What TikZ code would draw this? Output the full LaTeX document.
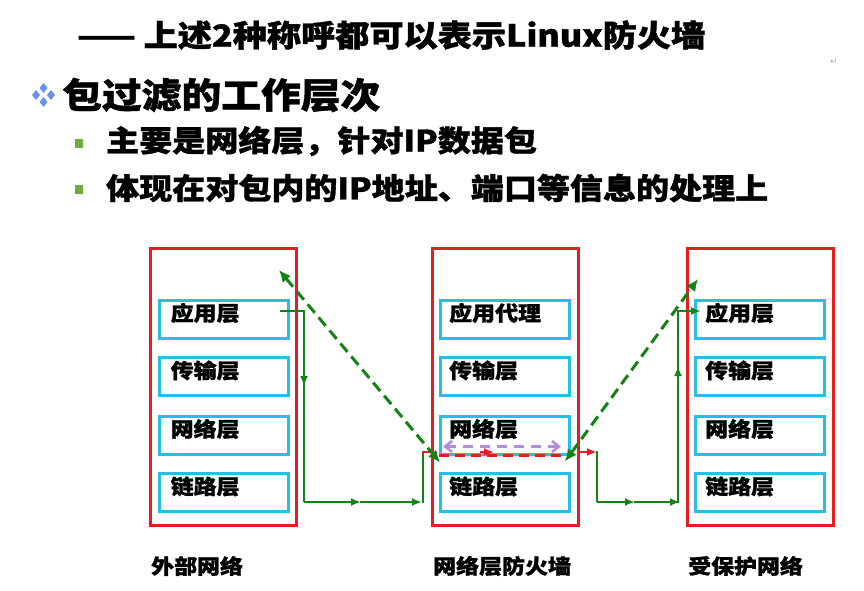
\documentclass[tikz,border=0pt]{standalone}
\usepackage{fontspec}
\newfontfamily\cjk{Noto Sans CJK SC}[FakeStretch=1.12,FakeBold=1.2]
\newfontfamily\symfont{DejaVu Sans}
\usetikzlibrary{arrows.meta}
\definecolor{netred}{RGB}{228,30,30}
\definecolor{layerblue}{RGB}{40,190,232}
\definecolor{flowgreen}{RGB}{20,130,20}
\definecolor{peerpurple}{RGB}{180,140,222}
\definecolor{dotblue}{RGB}{105,145,238}
\definecolor{dotgreen}{RGB}{110,172,60}

\begin{document}
\begin{tikzpicture}[x=1pt,y=-1pt,
  netbox/.style={draw=netred,line width=3pt,minimum width=146pt,minimum height=277pt,inner sep=0pt},
  layerbox/.style={draw=layerblue,line width=3pt,minimum width=129pt,minimum height=38pt,inner sep=0pt},
  layertxt/.style={anchor=west,inner sep=0pt,font=\cjk\bfseries\fontsize{20.5}{24}\selectfont},
  nettxt/.style={anchor=west,inner sep=0pt,font=\cjk\bfseries\fontsize{20.5}{24}\selectfont},
  flow/.style={flowgreen,line width=2.5pt,-{Latex[length=10pt,width=8pt]}},
  flowline/.style={flowgreen,line width=2.5pt},
  peer/.style={flowgreen,line width=3pt,dash pattern=on 11pt off 6pt,
    {Latex[length=12pt,width=11pt]}-{Latex[length=12pt,width=11pt]}},
  pass/.style={netred,line width=2.5pt}]
  \useasboundingbox (0,0) rectangle (864,591);

  % heading text
  \node[anchor=west,inner sep=0pt,font=\cjk\bfseries\fontsize{30.5}{34}\selectfont] (title) at (77,35) {—— 上述2种称呼都可以表示Linux防火墙};
  \node[font=\symfont\fontsize{9}{10}\selectfont,text=gray!70,inner sep=0pt] (ret) at (834,62) {↵};
  \fill[dotblue] (43.5,83) -- (47.5,88) -- (43.5,93) -- (39.5,88) -- cycle;
  \fill[dotblue] (43.5,97) -- (47.5,102) -- (43.5,107) -- (39.5,102) -- cycle;
  \fill[dotblue] (36,90) -- (40,95) -- (36,100) -- (32,95) -- cycle;
  \fill[dotblue] (51,90) -- (55,95) -- (51,100) -- (47,95) -- cycle;
  \node[anchor=west,inner sep=0pt,font=\cjk\bfseries\fontsize{35.5}{40}\selectfont] (head) at (62,95) {包过滤的工作层次};
  \fill[dotgreen] (75,139) rectangle (83,148);
  \node[anchor=west,inner sep=0pt,font=\cjk\bfseries\fontsize{29.5}{33}\selectfont] (item1) at (106,141) {主要是网络层，针对IP数据包};
  \fill[dotgreen] (75,185) rectangle (83,194);
  \node[anchor=west,inner sep=0pt,font=\cjk\bfseries\fontsize{29.5}{33}\selectfont] (item2) at (106,188) {体现在对包内的IP地址、端口等信息的处理上};

  % the three stacks
  \node[netbox] (ext) at (223.5,386.5) {};
  \node[netbox] (fw) at (505,386.5) {};
  \node[netbox] (prot) at (760,386.5) {};

  \node[layerbox] (e1) at (223.5,319) {};
  \node[layerbox] (e2) at (223.5,376.5) {};
  \node[layerbox] (e3) at (223.5,435) {};
  \node[layerbox] (e4) at (223.5,492.5) {};
  \node[layertxt] at ([xshift=13pt,yshift=6pt]e1.west) {应用层};
  \node[layertxt] at ([xshift=13pt,yshift=6pt]e2.west) {传输层};
  \node[layertxt] at ([xshift=13pt,yshift=6pt]e3.west) {网络层};
  \node[layertxt] at ([xshift=13pt,yshift=6pt]e4.west) {链路层};

  \node[layerbox] (f1) at (505,319) {};
  \node[layerbox] (f2) at (505,376.5) {};
  \node[layerbox] (f3) at (505,435) {};
  \node[layerbox] (f4) at (505,492.5) {};
  \node[layertxt] at ([xshift=10pt,yshift=6pt]f1.west) {应用代理};
  \node[layertxt] at ([xshift=10pt,yshift=6pt]f2.west) {传输层};
  \node[layertxt] at ([xshift=10pt,yshift=6pt]f3.west) {网络层};
  \node[layertxt] at ([xshift=10pt,yshift=6pt]f4.west) {链路层};

  \node[layerbox] (p1) at (760,319) {};
  \node[layerbox] (p2) at (760,376.5) {};
  \node[layerbox] (p3) at (760,435) {};
  \node[layerbox] (p4) at (760,492.5) {};
  \node[layertxt] at ([xshift=11pt,yshift=6pt]p1.west) {应用层};
  \node[layertxt] at ([xshift=11pt,yshift=6pt]p2.west) {传输层};
  \node[layertxt] at ([xshift=11pt,yshift=6pt]p3.west) {网络层};
  \node[layertxt] at ([xshift=11pt,yshift=6pt]p4.west) {链路层};

  \node[nettxt] (extname) at (151,566) {外部网络};
  \node[nettxt] (fwname) at (433,566) {网络层防火墙};
  \node[nettxt] (protname) at (688,566) {受保护网络};

  % packet path
  \coordinate (out) at ([xshift=-10pt,yshift=8pt]e1.east);
  \coordinate (in) at ([xshift=7pt,yshift=8pt]p1.west);
  \coordinate (fwin) at (fw.west |- 0,452);
  \coordinate (fwout) at (fw.east |- 0,452);
  \draw[flow] (out) -- (304,311) -- (304,386);
  \draw[flowline] (304,383) -- (304,502);
  \draw[flow] (304,502) -- (361,502);
  \draw[flow] (360,502) -- (422,502);
  \draw[flowline] (423,503) -- (423,452);
  \draw[pass] (422,452) -- (fwin);
  \draw[pass,dash pattern=on 10pt off 6pt] (f3.south west) -- (f3.south east);
  \draw[pass,-{Latex[length=10pt,width=8pt]}] (480,452) -- (494,452);
  \draw[pass,-{Latex[length=10pt,width=8pt]}] (fwout) -- (597,452);
  \draw[flowline] (597,451) -- (597,502);
  \draw[flow] (597,502) -- (635,502);
  \draw[flow] (634,502) -- (680,502);
  \draw[flow] (678,503) -- (678,366);
  \draw[flow] (678,370) -- (678,311) -- (in);

  % peer to peer dialogue
  \coordinate (extapp) at (279,270);
  \coordinate (protapp) at (698,279);
  \draw[peer] (extapp) -- ([xshift=1pt,yshift=-7pt]f3.south west);
  \draw[peer] ([xshift=-6pt,yshift=-6pt]f3.south east) -- (protapp);
  \draw[peerpurple,line width=2.6pt,dash pattern=on 10pt off 7pt,
    {Straight Barb[length=7pt,width=11pt]}-{Straight Barb[length=7pt,width=11pt]}]
    ([xshift=4pt,yshift=9pt]f3.south west) -- ([xshift=-10pt,yshift=9pt]f3.south east);
\end{tikzpicture}
\end{document}
